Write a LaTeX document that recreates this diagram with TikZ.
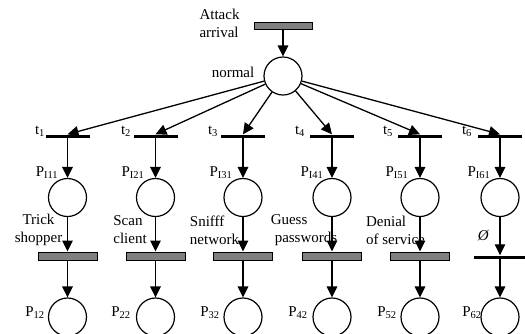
\documentclass[tikz,border=0pt]{standalone}
\usepackage{fontspec}
\setmainfont{Liberation Serif}
\usetikzlibrary{arrows.meta,calc}
\begin{document}
\begin{tikzpicture}[x=1pt,y=-1pt,
  font=\fontsize{15}{18}\selectfont,
  place/.style={circle,draw,line width=1.2pt,minimum size=38pt,inner sep=0pt},
  graybar/.style={rectangle,draw,line width=1pt,fill={rgb,255:red,128;green,128;blue,128},
    minimum width=59pt,minimum height=8pt,inner sep=0pt},
  thinbar/.style={rectangle,fill=black,minimum width=44pt,minimum height=3pt,inner sep=0pt},
  arr/.style={line width=1.3pt,-{Triangle[length=11pt,width=10.5pt]}},
  lbl/.style={inner sep=0pt}]
\useasboundingbox (0,0) rectangle (525,333);

% source transition and the normal place
\node[graybar,minimum width=58pt,minimum height=7pt] (ta) at (283,25.5) {};
\node[lbl,align=left] (tal) at (219.5,23) {Attack\\arrival};
\node[place] (normal) at (283,76) {};
\node[lbl] (nl) at (233,72) {normal};
\draw[arr] (ta) -- (normal);

% the six attack branches
\foreach \i/\x/\tx/\px/\qx in {1/67.5/40/47/35,2/155.5/126/133/121,3/243/213/221/210,
                                4/332/300/312/298,5/420/388/397/387,6/500/467/479/472}{
  \node[thinbar] (t\i) at (\x,136) {};
  \node[lbl] (tl\i) at (\tx,131) {t\textsubscript{\i}};
  \draw[arr] (normal) -- (t\i.north);
  \node[place] (pi\i) at (\x,197.5) {};
  \node[lbl] (pil\i) at (\px,173) {P\textsubscript{I\i1}};
  \draw[arr] (t\i) -- (pi\i);
  \node[place] (po\i) at (\x,317) {};
  \node[lbl] (pol\i) at (\qx,313) {P\textsubscript{\i2}};
}

% attack actions
\foreach \i in {1,...,5}{
  \node[graybar] (a\i) at ($(pi\i)+(0,58.5)$) {};
}
\node[thinbar,minimum width=52pt] (a6) at (500,257) {};
\foreach \i in {1,...,6}{
  \draw[arr] (pi\i) -- (a\i);
  \draw[arr] (a\i) -- (po\i);
}

\node[lbl,align=center] (al1) at (38.5,230) {Trick\\shopper};
\node[lbl,align=left] (al2) at (130,230) {Scan\\client};
\node[lbl,align=left] (al3) at (214.5,230) {Snifff\\network};
\node[lbl,align=left] (al4) at (304,230) {Guess\\\hspace*{4pt}passwords};
\node[lbl,align=left] (al5) at (395.5,230) {Denial\\of service};
\node[lbl] (al6) at (483.5,236) {\textit{Ø}};
\end{tikzpicture}
\end{document}
